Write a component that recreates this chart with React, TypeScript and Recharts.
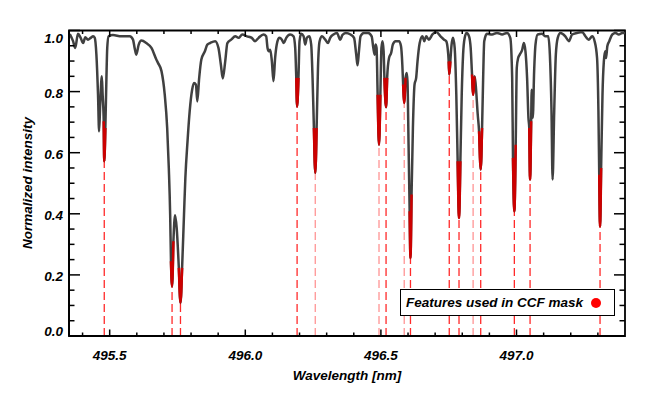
import React from 'react'
import { LineChart, Line, XAxis, YAxis, ReferenceLine, ReferenceArea } from 'recharts'

// spectrum (wavelength in nm, normalized intensity)
const wavelength = [
  495.353, 495.365, 495.373, 495.383, 495.393, 495.402, 495.41, 495.42, 495.43, 495.439,
  495.445, 495.451, 495.457, 495.461, 495.465, 495.471, 495.474, 495.478, 495.48, 495.484,
  495.488, 495.491, 495.496, 495.512, 495.543, 495.574, 495.586, 495.592, 495.598, 495.607,
  495.617, 495.635, 495.654, 495.672, 495.678, 495.691, 495.703, 495.712, 495.718, 495.723,
  495.726, 495.73, 495.735, 495.741, 495.747, 495.755, 495.761, 495.767, 495.774, 495.779,
  495.787, 495.795, 495.804, 495.811, 495.818, 495.823, 495.83, 495.838, 495.851, 495.86,
  495.87, 495.889, 495.901, 495.91, 495.917, 495.926, 495.934, 495.948, 495.963, 495.975,
  495.989, 496.006, 496.024, 496.036, 496.049, 496.067, 496.077, 496.082, 496.087, 496.092,
  496.098, 496.104, 496.11, 496.116, 496.125, 496.135, 496.142, 496.151, 496.165, 496.178,
  496.184, 496.188, 496.191, 496.196, 496.2, 496.206, 496.215, 496.221, 496.227, 496.236,
  496.243, 496.248, 496.253, 496.258, 496.263, 496.268, 496.274, 496.283, 496.295, 496.305,
  496.313, 496.325, 496.338, 496.35, 496.358, 496.37, 496.388, 496.401, 496.409, 496.414,
  496.419, 496.425, 496.437, 496.453, 496.466, 496.472, 496.477, 496.48, 496.484, 496.488,
  496.493, 496.498, 496.502, 496.506, 496.51, 496.513, 496.519, 496.523, 496.53, 496.538,
  496.544, 496.554, 496.567, 496.574, 496.579, 496.582, 496.586, 496.591, 496.595, 496.598,
  496.602, 496.606, 496.609, 496.613, 496.618, 496.624, 496.63, 496.635, 496.643, 496.653,
  496.66, 496.667, 496.677, 496.69, 496.704, 496.72, 496.733, 496.741, 496.746, 496.75,
  496.752, 496.756, 496.76, 496.766, 496.772, 496.778, 496.783, 496.788, 496.793, 496.798,
  496.803, 496.809, 496.816, 496.825, 496.831, 496.836, 496.84, 496.845, 496.849, 496.857,
  496.862, 496.868, 496.873, 496.877, 496.881, 496.891, 496.91, 496.928, 496.947, 496.965,
  496.977, 496.984, 496.987, 496.992, 496.997, 497.001, 497.006, 497.012, 497.021, 497.027,
  497.033, 497.039, 497.044, 497.047, 497.05, 497.054, 497.056, 497.06, 497.065, 497.07,
  497.078, 497.094, 497.107, 497.117, 497.123, 497.129, 497.133, 497.139, 497.145, 497.152,
  497.162, 497.18, 497.193, 497.205, 497.223, 497.242, 497.254, 497.266, 497.279, 497.288,
  497.297, 497.302, 497.305, 497.308, 497.312, 497.317, 497.322, 497.327, 497.33, 497.335,
  497.342, 497.353, 497.365, 497.377, 497.39, 497.4,
]

const flux = [
  0.988, 0.965, 0.943, 0.989, 0.976, 0.959, 0.978, 0.97, 0.976, 0.981,
  0.976, 0.921, 0.79, 0.67, 0.757, 0.85, 0.79, 0.703, 0.572, 0.681,
  0.845, 0.943, 0.981, 0.985, 0.981, 0.981, 0.97, 0.943, 0.921, 0.954,
  0.967, 0.959, 0.943, 0.905, 0.894, 0.867, 0.79, 0.681, 0.55, 0.397,
  0.245, 0.163, 0.31, 0.395, 0.354, 0.223, 0.108, 0.223, 0.397, 0.517,
  0.637, 0.736, 0.806, 0.828, 0.823, 0.768, 0.845, 0.905, 0.932, 0.954,
  0.959, 0.965, 0.943, 0.888, 0.843, 0.899, 0.959, 0.97, 0.981, 0.976,
  0.987, 0.981, 0.976, 0.965, 0.976, 0.987, 0.981, 0.943, 0.932, 0.937,
  0.899, 0.834, 0.91, 0.954, 0.976, 0.97, 0.959, 0.976, 0.987, 0.981,
  0.943, 0.845, 0.752, 0.845, 0.965, 0.989, 0.981, 0.954, 0.976, 0.981,
  0.954, 0.845, 0.681, 0.534, 0.681, 0.878, 0.965, 0.981, 0.97, 0.959,
  0.976, 0.987, 0.992, 0.97, 0.985, 0.992, 0.987, 0.976, 0.921, 0.886,
  0.932, 0.981, 0.992, 0.992, 0.981, 0.943, 0.921, 0.954, 0.943, 0.79,
  0.626, 0.79, 0.943, 0.965, 0.932, 0.845, 0.749, 0.845, 0.91, 0.927,
  0.954, 0.965, 0.965, 0.949, 0.888, 0.823, 0.763, 0.845, 0.861, 0.834,
  0.626, 0.408, 0.255, 0.463, 0.681, 0.823, 0.845, 0.899, 0.959, 0.981,
  0.965, 0.981, 0.97, 0.987, 0.995, 0.981, 0.97, 0.965, 0.943, 0.899,
  0.856, 0.899, 0.949, 0.976, 0.943, 0.79, 0.572, 0.386, 0.572, 0.79,
  0.921, 0.976, 0.992, 0.981, 0.943, 0.856, 0.79, 0.85, 0.828, 0.725,
  0.67, 0.545, 0.681, 0.845, 0.965, 0.989, 0.987, 0.992, 0.987, 0.992,
  0.976, 0.845, 0.583, 0.408, 0.626, 0.878, 0.91, 0.921, 0.937, 0.959,
  0.932, 0.845, 0.714, 0.681, 0.512, 0.703, 0.806, 0.714, 0.867, 0.954,
  0.987, 0.989, 0.981, 0.981, 0.921, 0.736, 0.512, 0.736, 0.921, 0.976,
  0.992, 0.981, 0.965, 0.987, 0.992, 0.995, 0.981, 0.97, 0.981, 0.965,
  0.91, 0.736, 0.528, 0.359, 0.55, 0.79, 0.899, 0.932, 0.91, 0.949,
  0.965, 0.987, 0.992, 0.987, 0.992, 0.992,
]

// lines used in the CCF mask (centre wavelengths) and the spectrum span highlighted around each
const maskLines = [
  495.48, 495.73, 495.761, 496.191, 496.258, 496.493, 496.519, 496.586,
  496.609, 496.752, 496.788, 496.84, 496.868, 496.992, 497.05, 497.308,
]
const maskWindows = [
  [495.477, 495.485], [495.725, 495.736], [495.754, 495.768], [496.187, 496.197],
  [496.252, 496.264], [496.487, 496.499], [496.512, 496.524], [496.581, 496.592],
  [496.605, 496.614], [496.749, 496.757], [496.782, 496.794], [496.835, 496.846],
  [496.861, 496.874], [496.986, 496.998], [497.046, 497.055], [497.304, 497.313],
]
const faintLines = [496.258, 496.493, 496.586, 496.84]

const xMajorTicks = [495.5, 496.0, 496.5, 497.0]
const xMinorTicks = [495.4, 495.6, 495.7, 495.8, 495.9, 496.1, 496.2, 496.3, 496.4, 496.6, 496.7, 496.8, 496.9, 497.1, 497.2, 497.3]
const yMajorTicks = [0, 0.2, 0.4, 0.6, 0.8, 1.0]
const yMinorTicks = [0.05, 0.1, 0.15, 0.25, 0.3, 0.35, 0.45, 0.5, 0.55, 0.65, 0.7, 0.75, 0.85, 0.9, 0.95]

const X_DOMAIN: [number, number] = [495.35, 497.4]
const PLOT_LEFT = 69
const PLOT_RIGHT = 625
const PLOT_TOP = 30.5
const PLOT_BOTTOM = 336

const font = {
  fontFamily: '"Liberation Sans", Arial, Helvetica, sans-serif',
  fontWeight: 700,
  fontStyle: 'italic' as const,
  fontSize: 13.5,
}

const data = wavelength.map((wl, i) => {
  const inMask = maskWindows.some(([lo, hi]) => wl >= lo && wl <= hi)
  return { wl, flux: flux[i], mask: inMask ? flux[i] : null }
})

const depthAt = (w: number) => {
  let best = 0
  wavelength.forEach((wl, i) => {
    if (Math.abs(wl - w) < Math.abs(wavelength[best] - w)) best = i
  })
  return flux[best]
}

const XTick = ({ x, y, payload }: any) => {
  const v = payload.value
  const major = xMajorTicks.includes(v)
  const len = major ? 6.5 : 3.5
  return (
    <g>
      <line x1={x} x2={x} y1={y} y2={y - len} stroke="#000" strokeWidth={1.5} />
      <line x1={x} x2={x} y1={PLOT_TOP} y2={PLOT_TOP + len} stroke="#000" strokeWidth={1.5} />
      {major && (
        <text x={x} y={y + 24} textAnchor="middle" fill="#000" style={font}>
          {v.toFixed(1)}
        </text>
      )}
    </g>
  )
}

const YTick = ({ x, y, payload }: any) => {
  const v = payload.value
  const major = yMajorTicks.includes(v)
  const len = major ? 11 : 5.5
  // end labels are pulled inside the frame, like the original
  let ty = y + 6
  if (v === 1) ty = y + 12.5
  if (v === 0) ty = y - 0.5
  return (
    <g>
      <line x1={x} x2={x + len} y1={y} y2={y} stroke="#000" strokeWidth={1.5} />
      <line x1={PLOT_RIGHT} x2={PLOT_RIGHT - len} y1={y} y2={y} stroke="#000" strokeWidth={1.5} />
      {major && (
        <text x={x - 6} y={ty} textAnchor="end" fill="#000" style={font}>
          {v.toFixed(1)}
        </text>
      )}
    </g>
  )
}

export default function App() {
  return (
    <div style={{ position: 'absolute', left: 0, top: 0, width: 664, height: 399, background: '#fff' }}>
      <LineChart
        width={664}
        height={399}
        data={data}
        margin={{ top: PLOT_TOP, right: 664 - PLOT_RIGHT, bottom: 0, left: 0 }}
      >
        <XAxis
          dataKey="wl"
          type="number"
          domain={X_DOMAIN}
          allowDataOverflow
          ticks={[...xMajorTicks, ...xMinorTicks]}
          interval={0}
          tickSize={0}
          tickMargin={0}
          tickLine={false}
          tick={<XTick />}
          axisLine={{ stroke: '#000', strokeWidth: 1.8 }}
          height={399 - PLOT_BOTTOM}
          label={() => (
            <text x={(PLOT_LEFT + PLOT_RIGHT) / 2} y={380} textAnchor="middle" fill="#000" style={font}>
              Wavelength [nm]
            </text>
          )}
        />
        <YAxis
          type="number"
          domain={[0, 1]}
          allowDataOverflow
          ticks={[...yMajorTicks, ...yMinorTicks]}
          interval={0}
          tickSize={0}
          tickMargin={0}
          tickLine={false}
          tick={<YTick />}
          axisLine={{ stroke: '#000', strokeWidth: 1.8 }}
          width={PLOT_LEFT}
          label={() => (
            <text
              x={32.3}
              y={183}
              textAnchor="middle"
              fill="#000"
              style={font}
              transform="rotate(-90 32.3 183)"
            >
              Normalized intensity
            </text>
          )}
        />
        <ReferenceArea
          x1={X_DOMAIN[0]}
          x2={X_DOMAIN[1]}
          y1={0}
          y2={1}
          fill="none"
          stroke="#000"
          strokeWidth={1.8}
          ifOverflow="visible"
        />
        {maskLines.map((w) => (
          <ReferenceLine
            key={w}
            segment={[{ x: w, y: 0 }, { x: w, y: depthAt(w) }]}
            stroke="#ff2a2a"
            strokeWidth={1.3}
            strokeDasharray="8 4"
            strokeOpacity={faintLines.includes(w) ? 0.5 : 1}
          />
        ))}
        <Line
          type="monotoneX"
          dataKey="flux"
          stroke="#404040"
          strokeWidth={2.5}
          dot={false}
          isAnimationActive={false}
        />
        <Line
          type="monotoneX"
          dataKey="mask"
          stroke="#cc0000"
          strokeWidth={2.5}
          dot={false}
          connectNulls={false}
          isAnimationActive={false}
        />
      </LineChart>
      <div
        style={{
          position: 'absolute',
          left: 400,
          top: 289,
          width: 208,
          height: 25,
          border: '1.5px solid #000',
          background: '#fff',
          display: 'flex',
          alignItems: 'center',
          paddingLeft: 5,
          boxSizing: 'content-box',
          ...font,
          lineHeight: 1,
        }}
      >
        <span>Features used in CCF mask</span>
        <span
          style={{
            display: 'inline-block',
            width: 10,
            height: 10,
            borderRadius: '50%',
            background: '#ff0000',
            marginLeft: 8,
          }}
        />
      </div>
    </div>
  )
}
